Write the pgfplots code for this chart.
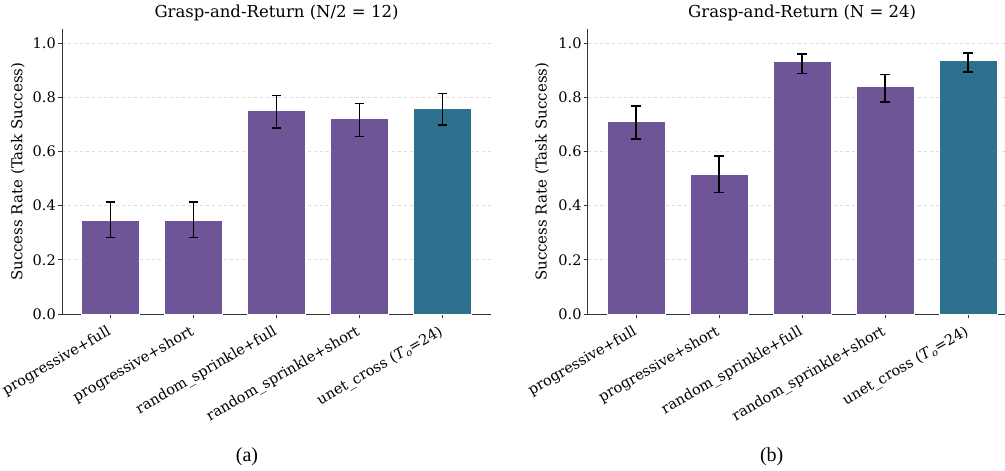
\documentclass[border=0pt]{standalone}
\usepackage{pgfplots}
\pgfplotsset{compat=1.18}
\usepackage{fontspec}
\setmainfont{DejaVu Serif}
\newfontfamily\capfont{Liberation Serif}
\definecolor{barpurple}{RGB}{110,85,152}
\definecolor{barteal}{RGB}{46,113,142}
\definecolor{axgray}{RGB}{51,51,51}
\definecolor{gridgray}{RGB}{218,218,218}
\newcommand{\tickfont}{\fontsize{14.5}{16}\selectfont}
\newcommand{\To}{\textit{T}\raisebox{-0.35ex}{\fontsize{10}{11}\selectfont\textit{o}}}
\pgfplotsset{
  mystyle/.style={
    scale only axis, width=429pt, height=284.55pt,
    xmin=-0.585, xmax=4.585, ymin=0, ymax=1.05,
    axis x line*=bottom, axis y line*=left,
    axis line style={axgray, line width=0.8pt, -},
    xtick={0,1,2,3,4},
    xticklabels={progressive+full, progressive+short, random\_sprinkle+full, random\_sprinkle+short, unet\_cross (\To=24)},
    ytick={0,0.2,0.4,0.6,0.8,1},
    yticklabels={0.0,0.2,0.4,0.6,0.8,1.0},
    tick align=outside, major tick length=4pt,
    tick style={axgray, line width=0.8pt},
    ymajorgrids, grid style={gridgray, dashed, line width=0.6pt},
    xticklabel style={xshift=-4pt, yshift=-5pt, rotate=30, anchor=north east, font=\tickfont, inner sep=1pt},
    yticklabel style={font=\tickfont, inner sep=2pt},
    ylabel style={font=\fontsize{15}{17}\selectfont, at={(axis description cs:-0.103,0.5)}, anchor=center},
    ylabel={Success Rate (Task Success)},
    title style={font=\fontsize{16.5}{18}\selectfont, at={(axis description cs:0.5,1)}, anchor=base, yshift=6pt},
    ybar, bar width=0.7, bar shift=0pt,
    clip=false,
    error bars/y dir=both, error bars/y explicit,
    error bars/error bar style={black, line width=1.6pt},
    error bars/error mark options={rotate=90, mark size=4.8pt, line width=1.6pt, black},
  }
}
\begin{document}
\begin{tikzpicture}
\path[use as bounding box] (0,0) rectangle (1005pt,471pt);
\begin{axis}[mystyle, at={(62pt,157pt)}, anchor=south west, title={Grasp-and-Return (N/2 = 12)}]
\addplot[fill=barpurple, draw=white, line width=0.8pt] coordinates {
  (0,0.345) += (0,0.069) -= (0,0.063)
  (1,0.345) += (0,0.069) -= (0,0.063)
  (2,0.750) += (0,0.056) -= (0,0.063)
  (3,0.720) += (0,0.057) -= (0,0.065)
  };
\addplot[fill=barteal, draw=white, line width=0.8pt] coordinates {
  (4,0.760) += (0,0.054) -= (0,0.063)
  };
\end{axis}
\begin{axis}[mystyle, at={(587.7pt,157pt)}, anchor=south west, title={Grasp-and-Return (N = 24)},
  ylabel style={at={(axis description cs:-0.1065,0.5)}}]
\addplot[fill=barpurple, draw=white, line width=0.8pt] coordinates {
  (0,0.709) += (0,0.059) -= (0,0.064)
  (1,0.515) += (0,0.069) -= (0,0.067)
  (2,0.931) += (0,0.028) -= (0,0.044)
  (3,0.840) += (0,0.044) -= (0,0.057)
  };
\addplot[fill=barteal, draw=white, line width=0.8pt] coordinates {
  (4,0.935) += (0,0.027) -= (0,0.041)
  };
\end{axis}
\node[font=\capfont\fontsize{20}{24}\selectfont] at (247pt,14pt) {(a)};
\node[font=\capfont\fontsize{20}{24}\selectfont] at (771.7pt,14pt) {(b)};
\end{tikzpicture}
\end{document}
